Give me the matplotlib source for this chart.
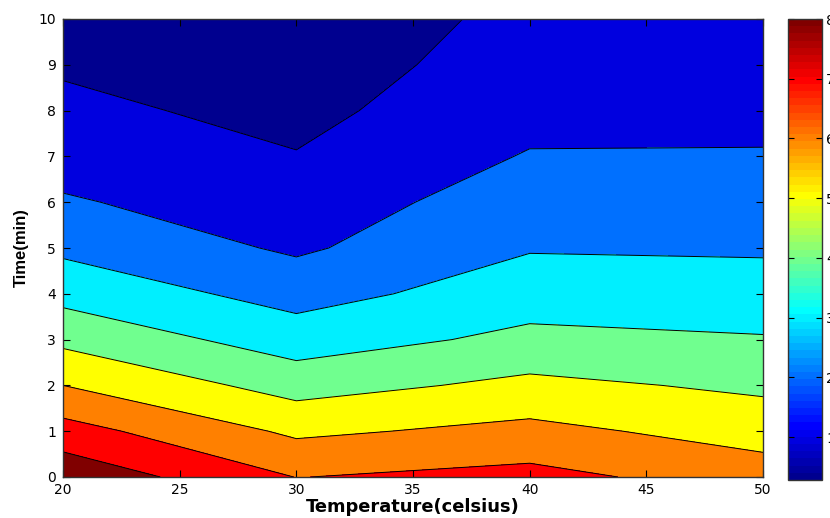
import matplotlib
matplotlib.use("Agg")
import matplotlib.pyplot as plt
import numpy as np
from matplotlib.colors import Normalize, ListedColormap
from matplotlib.cm import ScalarMappable

temperature = [20, 30, 40, 50]
time_min = [0, 1, 2, 3, 4, 5, 6, 7, 8, 9, 10]

# values, one list per temperature column (time 0..10)
z_20 = [87.3, 74.0, 60.0, 47.6, 36.7, 28.0, 21.0, 16.0, 11.9, 9.0, 4.8]
z_30 = [69.8, 58.1, 45.9, 35.0, 26.2, 18.5, 14.8, 10.4, 7.6, 5.2, 2.8]
z_40 = [73.1, 62.8, 52.5, 42.5, 35.3, 29.3, 25.0, 20.7, 16.5, 14.5, 12.9]
z_50 = [64.9, 55.8, 48.1, 40.7, 34.4, 28.8, 24.8, 20.8, 16.8, 14.5, 12.8]

levels = [10, 20, 30, 40, 50, 60, 70, 80]
x_ticks = [20, 25, 30, 35, 40, 45, 50]
y_ticks = [0, 1, 2, 3, 4, 5, 6, 7, 8, 9, 10]
c_min, c_max = 2.8, 80


def matlab_jet(n=64):
    # same construction as matlab's jet.m
    m = int(np.ceil(n / 4))
    u = np.concatenate([np.arange(1, m + 1) / m, np.ones(m - 1), np.arange(m, 0, -1) / m])
    g = int(np.ceil(m / 2)) - (1 if n % 4 == 1 else 0) + np.arange(1, len(u) + 1)
    r = g + m
    b = g - m
    J = np.zeros((n, 3))
    J[r[r <= n] - 1, 0] = u[r <= n]
    J[g[g <= n] - 1, 1] = u[g <= n]
    J[b[b >= 1] - 1, 2] = u[b >= 1]
    return ListedColormap(J)


Z = np.array([z_20, z_30, z_40, z_50]).T
T, Y = np.meshgrid(temperature, time_min)

cmap = matlab_jet(64)
norm = Normalize(vmin=c_min, vmax=c_max)

fig = plt.figure(figsize=(8.3, 5.18), dpi=100)
ax = fig.add_axes([63 / 830, 1 - 477 / 518, 700 / 830, 458 / 518])
cax = fig.add_axes([788 / 830, 1 - 480 / 518, 34 / 830, 461 / 518])

# each band takes the colour of its lower level, like matlab's contourf
bounds = [Z.min()] + levels + [Z.max()]
fill_colors = [cmap(min(norm(v), 0.999)) for v in bounds[:-1]]
ax.contourf(T, Y, Z, levels=bounds, colors=fill_colors)
ax.contour(T, Y, Z, levels=levels, colors="k", linewidths=0.7)

ax.set_xlim(20, 50)
ax.set_ylim(0, 10)
ax.set_xticks(x_ticks)
ax.set_yticks(y_ticks)
ax.tick_params(direction="in", top=True, right=True, length=5, labelsize=10, pad=5)
ax.tick_params(axis="x", pad=4)
for s in ax.spines.values():
    s.set_linewidth(1.0)
    s.set_color("#333333")

ax.set_xlabel("Temperature(celsius)", fontsize=12.9, fontweight="bold",
              family="DejaVu Sans", labelpad=1)
ax.set_ylabel("Time(min)", fontsize=12, fontweight="bold",
              family="Liberation Sans", labelpad=7)

cb = fig.colorbar(ScalarMappable(norm=norm, cmap=cmap), cax=cax, ticks=levels)
cb.outline.set_linewidth(1.0)
cb.outline.set_edgecolor("#333333")
cax.tick_params(direction="in", left=True, right=True, length=4, labelsize=10, pad=3)

fig.savefig("out.png", dpi=100)
